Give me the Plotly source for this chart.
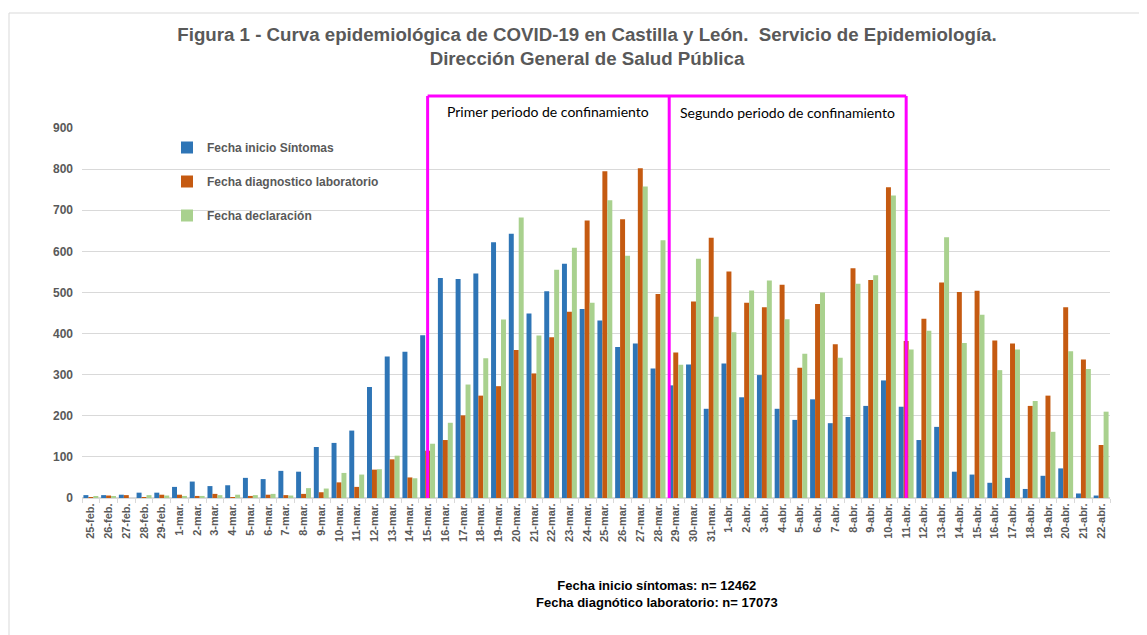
import plotly.graph_objects as go

# ---------------- data ----------------
dates = (["25-feb.", "26-feb.", "27-feb.", "28-feb.", "29-feb."]
         + [f"{d}-mar." for d in range(1, 32)]
         + [f"{d}-abr." for d in range(1, 23)])

inicio_sintomas = [7, 7, 8, 13, 13,
                   27, 40, 29, 31, 49, 46, 66, 64, 124, 134, 164, 270, 344, 356, 396,
                   535, 533, 546, 622, 643, 449, 503, 570, 460, 432, 367, 376, 315, 274, 325, 217,
                   327, 245, 299, 217, 190, 240, 182, 197, 224, 286, 222, 141, 173, 64, 57, 37,
                   49, 22, 54, 72, 11, 6]

diagnostico_lab = [2, 6, 7, 1, 8,
                   8, 5, 10, 1, 5, 8, 7, 10, 14, 38, 27, 69, 94, 50, 115,
                   141, 201, 249, 272, 360, 303, 391, 453, 675, 795, 678, 802, 496, 354, 478, 633,
                   551, 475, 464, 519, 317, 472, 374, 559, 530, 756, 382, 436, 524, 501, 504, 383,
                   376, 224, 249, 464, 337, 129]

declaracion = [4, 4, 0, 7, 6,
               5, 5, 7, 8, 7, 10, 6, 24, 23, 61, 57, 70, 103, 48, 132,
               183, 276, 340, 434, 682, 395, 555, 609, 475, 724, 589, 758, 627, 324, 582, 441,
               403, 505, 529, 435, 351, 500, 341, 521, 542, 736, 361, 407, 634, 377, 446, 311,
               361, 236, 161, 357, 314, 210]

series_names = ["Fecha inicio Síntomas", "Fecha diagnostico laboratorio", "Fecha declaración"]
series_colors = ["#2E75B6", "#C55A11", "#A9D18E"]

title_lines = ["Figura 1 - Curva epidemiológica de COVID-19 en Castilla y León.\u00a0 Servicio de Epidemiología.",
               "Dirección General de Salud Pública"]
period_labels = ["Primer periodo de confinamiento", "Segundo periodo de confinamiento"]
note_lines = ["Fecha inicio síntomas: n= 12462", "Fecha diagnótico laboratorio: n= 17073"]

# ---------------- layout constants ----------------
# the page body has an 8px margin, so the figure is drawn 8px right/down
OFF = 8
W, H = 1147 - OFF, 635 - OFF
PL, PR, PT, PB = 82, 1110, 128, 498          # plot area in page pixels
L, R, T, B = PL - OFF, W - (PR - OFF), PT - OFF, H - (PB - OFF)
plot_w = PR - PL
plot_h = PB - PT


def px_x(p):   # page px -> paper x
    return (p - PL) / plot_w


def px_y(p):   # page px -> paper y
    return (PB - p) / plot_h


GRAY = "#595959"
MAG = "#FF00FF"
FONT = "Liberation Sans, Arial"

fig = go.Figure()
for i, (name, vals, col) in enumerate(zip(series_names,
                                          [inicio_sintomas, diagnostico_lab, declaracion],
                                          series_colors)):
    fig.add_trace(go.Bar(x=dates, y=vals, name=name, marker_color=col,
                         marker_line_width=0, legendgroup=f"g{i}"))

# confinement boxes
i1 = dates.index("15-mar.")
i2 = dates.index("29-mar.") - 0.37
i3 = dates.index("11-abr.")
top = px_y(96)
line = dict(color=MAG, width=3)
shapes = [
    dict(type="line", xref="x", yref="paper", x0=i1, x1=i1, y0=0, y1=top, line=line),
    dict(type="line", xref="x", yref="paper", x0=i2, x1=i2, y0=0, y1=top, line=line),
    dict(type="line", xref="x", yref="paper", x0=i3, x1=i3, y0=0, y1=top, line=line),
    dict(type="line", xref="x", yref="paper", x0=i1, x1=i3, y0=top, y1=top, line=line),
    # outer chart border
    dict(type="rect", xref="paper", yref="paper", x0=px_x(9), x1=px_x(1160),
         y0=px_y(650), y1=px_y(13), line=dict(color="#D9D9D9", width=1), layer="below"),
]

annotations = [
    dict(xref="x", yref="paper", x=(i1 + i2) / 2, y=px_y(111), yanchor="middle",
         xanchor="center", text=period_labels[0], showarrow=False,
         font=dict(family="Lato", size=14, color="#000000")),
    dict(xref="x", yref="paper", x=(i2 + i3) / 2, y=px_y(112), yanchor="middle",
         xanchor="center", text=period_labels[1], showarrow=False,
         font=dict(family="Lato", size=14, color="#000000")),
    dict(xref="paper", yref="paper", x=px_x(657), y=px_y(593.5), yanchor="middle",
         xanchor="center", text="<b>" + note_lines[0] + "<br>" + note_lines[1] + "</b>",
         showarrow=False, align="center",
         font=dict(family=FONT, size=13, color="#000000")),
]

fig.update_layout(
    width=W, height=H,
    margin=dict(l=L, r=R, t=T, b=B, autoexpand=False),
    paper_bgcolor="white", plot_bgcolor="white",
    title=dict(text="<b>" + title_lines[0] + "<br>" + title_lines[1] + "</b>",
               xref="container", x=(587 - OFF) / W, xanchor="center",
               yref="container", y=1 - (41 - OFF) / H, yanchor="top",
               font=dict(family=FONT, size=18.7, color=GRAY)),
    barmode="group", bargap=0.16, bargroupgap=0.0,
    font=dict(family=FONT, color=GRAY),
    legend=dict(x=px_x(167), y=px_y(133), xanchor="left", yanchor="top",
                bgcolor="rgba(0,0,0,0)", tracegroupgap=15,
                font=dict(family=FONT, size=12, color=GRAY, weight="bold"),
                itemwidth=30),
    xaxis=dict(type="category", tickangle=-90, showgrid=False,
               showline=True, linecolor="#D9D9D9", linewidth=1,
               ticks="outside", tickson="boundaries", ticklen=4, tickcolor="#D9D9D9",
               tickfont=dict(family=FONT, size=11, color=GRAY, weight="bold")),
    yaxis=dict(range=[0, 900], dtick=100, showgrid=True, gridcolor="#D9D9D9", gridwidth=1,
               zeroline=True, zerolinecolor="#D9D9D9", showline=False, ticks="",
               ticklabelstandoff=8,
               tickfont=dict(family=FONT, size=12, color=GRAY, weight="bold")),
    shapes=shapes, annotations=annotations,
)

fig.write_html("out.html")
